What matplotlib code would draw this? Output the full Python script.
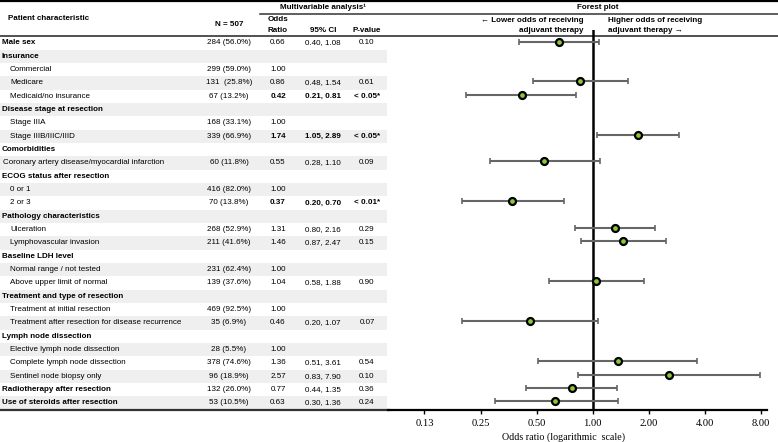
import numpy as np
import matplotlib
matplotlib.use("Agg")
import matplotlib.pyplot as plt

plt.rcParams['font.family'] = ['Liberation Sans', 'DejaVu Sans']

### Data ###
labels = ["Male sex", "Insurance", "Commercial", "Medicare", "Medicaid/no insurance",
          "Disease stage at resection", "Stage IIIA", "Stage IIIB/IIIC/IIID",
          "Comorbidities", "Coronary artery disease/myocardial infarction",
          "ECOG status after resection", "0 or 1", "2 or 3",
          "Pathology characteristics", "Ulceration", "Lymphovascular invasion",
          "Baseline LDH level", "Normal range / not tested", "Above upper limit of normal",
          "Treatment and type of resection", "Treatment at initial resection",
          "Treatment after resection for disease recurrence",
          "Lymph node dissection", "Elective lymph node dissection",
          "Complete lymph node dissection", "Sentinel node biopsy only",
          "Radiotherapy after resection", "Use of steroids after resection"]
# 0 = bold category, 1 = indented sub item, 2 = slightly indented sub item
levels = [0, 0, 1, 1, 1, 0, 1, 1, 0, 2, 0, 1, 1, 0, 1, 1, 0, 1, 1, 0, 1, 1, 0, 1, 1, 1, 0, 0]
n_text = ["284 (56.0%)", "", "299 (59.0%)", "131  (25.8%)", "67 (13.2%)", "", "168 (33.1%)",
          "339 (66.9%)", "", "60 (11.8%)", "", "416 (82.0%)", "70 (13.8%)", "", "268 (52.9%)",
          "211 (41.6%)", "", "231 (62.4%)", "139 (37.6%)", "", "469 (92.5%)", "35 (6.9%)", "",
          "28 (5.5%)", "378 (74.6%)", "96 (18.9%)", "132 (26.0%)", "53 (10.5%)"]
odds = [0.66, None, 1.00, 0.86, 0.42, None, 1.00, 1.74, None, 0.55, None, 1.00, 0.37, None,
        1.31, 1.46, None, 1.00, 1.04, None, 1.00, 0.46, None, 1.00, 1.36, 2.57, 0.77, 0.63]
ci_low = [0.40, None, None, 0.48, 0.21, None, None, 1.05, None, 0.28, None, None, 0.20, None,
          0.80, 0.87, None, None, 0.58, None, None, 0.20, None, None, 0.51, 0.83, 0.44, 0.30]
ci_high = [1.08, None, None, 1.54, 0.81, None, None, 2.89, None, 1.10, None, None, 0.70, None,
           2.16, 2.47, None, None, 1.88, None, None, 1.07, None, None, 3.61, 7.90, 1.35, 1.36]
p_text = ["0.10", "", "", "0.61", "< 0.05*", "", "", "< 0.05*", "", "0.09", "", "", "< 0.01*", "",
          "0.29", "0.15", "", "", "0.90", "", "", "0.07", "", "", "0.54", "0.10", "0.36", "0.24"]
significant = [4, 7, 12]

tick_vals = [0.125, 0.25, 0.5, 1, 2, 4, 8]
tick_labels = ["0.13", "0.25", "0.50", "1.00", "2.00", "4.00", "8.00"]

### Layout (pixel units) ###
W, H = 778, 442
row_y0, row_h = 43, 13.33
fs = 5.8
shade = "#efefef"

fig = plt.figure(figsize=(W / 100, H / 100), dpi=100)
ax = fig.add_axes([0, 0, 1, 1])
ax.set_xlim(0, W)
ax.set_ylim(H, 0)
ax.axis('off')

rows_y = row_y0 + row_h * np.arange(len(labels))

# alternating row shading
shaded = rows_y[1::2]
ax.barh(shaded, 387, height=row_h, left=0, color=shade, zorder=0)

indent = {0: 2, 1: 10, 2: 3}
for i, lab in enumerate(labels):
    y = rows_y[i]
    ax.text(indent[levels[i]], y, lab, fontsize=fs, va='center', ha='left',
            fontweight='bold' if levels[i] == 0 else 'normal')
    ax.text(229, y, n_text[i], fontsize=fs, va='center', ha='center')
    w = 'bold' if i in significant else 'normal'
    if odds[i] is not None:
        ax.text(278, y, f"{odds[i]:.2f}", fontsize=fs, va='center', ha='center', fontweight=w)
    if ci_low[i] is not None:
        ax.text(323, y, f"{ci_low[i]:.2f}, {ci_high[i]:.2f}", fontsize=fs, va='center',
                ha='center', fontweight=w)
    ax.text(367, y, p_text[i], fontsize=fs, va='center', ha='center', fontweight=w)

# header
ax.text(8, 18, "Patient characteristic", fontsize=fs, fontweight='bold', va='center')
ax.text(229, 25, "N = 507", fontsize=fs, fontweight='bold', va='center', ha='center')
ax.text(323, 7.5, "Multivariable analysis\u00b9", fontsize=fs, fontweight='bold',
        va='center', ha='center')
ax.text(278, 19.5, "Odds", fontsize=fs, fontweight='bold', va='center', ha='center')
ax.text(278, 30, "Ratio", fontsize=fs, fontweight='bold', va='center', ha='center')
ax.text(323, 30, "95% CI", fontsize=fs, fontweight='bold', va='center', ha='center')
ax.text(367, 30, "P-value", fontsize=fs, fontweight='bold', va='center', ha='center')
ax.text(598, 7.5, "Forest plot", fontsize=fs, fontweight='bold', va='center', ha='center')
ax.text(584, 20, "\u2190 Lower odds of receiving", fontsize=fs, fontweight='bold',
        va='center', ha='right')
ax.text(584, 30, "adjuvant therapy", fontsize=fs, fontweight='bold', va='center', ha='right')
ax.text(608, 20, "Higher odds of receiving", fontsize=fs, fontweight='bold',
        va='center', ha='left')
ax.text(608, 30, "adjuvant therapy \u2192", fontsize=fs, fontweight='bold',
        va='center', ha='left')

# rules
ax.plot([0, W], [1, 1], color='black', lw=1.6)
ax.plot([260, W], [14, 14], color='#333333', lw=1.1)
ax.plot([0, W], [36, 36], color='#222222', lw=1.1)
ax.plot([0, 389], [409.5, 409.5], color='#333333', lw=1.6)

### Forest plot ###
px1, px_per = 592.7, 56.1
left, right, top, bottom = 388, 767, 30, 409.5
fa = fig.add_axes([left / W, (H - bottom) / H, (right - left) / W, (bottom - top) / H])
fa.patch.set_alpha(0)
fa.set_xscale('log', base=2)
fa.set_xlim(2 ** ((left - px1) / px_per), 2 ** ((right - px1) / px_per))
fa.set_ylim(bottom, top)
for s in ['top', 'left', 'right']:
    fa.spines[s].set_visible(False)
fa.spines['bottom'].set_linewidth(1.6)
fa.set_yticks([])
fa.set_xticks(tick_vals)
fa.set_xticklabels(tick_labels, family=['Liberation Serif', 'DejaVu Serif'], fontsize=7.6)
fa.minorticks_off()
fa.tick_params(axis='x', direction='out', length=3, width=1, pad=4)

fa.axvline(1, color='black', lw=1.8, zorder=2)

idx = [i for i in range(len(labels)) if ci_low[i] is not None]
o = np.array([odds[i] for i in idx])
lo = np.array([ci_low[i] for i in idx])
hi = np.array([ci_high[i] for i in idx])
yy = rows_y[idx] - 1.5
fa.errorbar(o, yy, xerr=[o - lo, hi - o], fmt='none', ecolor='#666666', elinewidth=1.5,
            capsize=2.3, capthick=1.2, zorder=3)
fa.plot(o, yy, 'o', ms=5, mfc='#8cc63f', mec='black', mew=1.6, zorder=4)

ax.text(564, 437, "Odds ratio (logarithmic  scale)", fontsize=7.2,
        family=['Liberation Serif', 'DejaVu Serif'], va='center', ha='center')

fig.savefig("out.png", dpi=100)
